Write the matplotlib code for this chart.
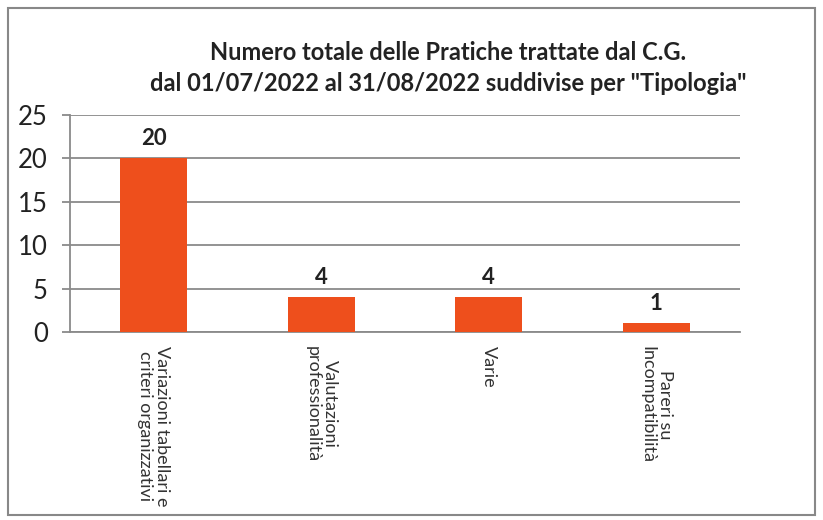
import matplotlib
matplotlib.use("Agg")
import matplotlib.pyplot as plt
from matplotlib.patches import Rectangle

# ========== Data ==========
categories = ["Variazioni tabellari e\ncriteri organizzativi",
              "Valutazioni\nprofessionalità",
              "Varie",
              "Pareri su\nIncompatibilità"]
values = [20, 4, 4, 1]
y_ticks = [0, 5, 10, 15, 20, 25]
title = ("Numero totale delle Pratiche trattate dal C.G.\n"
         "dal 01/07/2022 al 31/08/2022 suddivise per \"Tipologia\"")

plt.rcParams['font.family'] = ['Lato', 'DejaVu Sans']

# ========== Figure ==========
fig = plt.figure(figsize=(8.23, 5.2), dpi=100)
ax = fig.add_axes([0.085, 0.3615, 0.814, 0.4175])

x = range(len(categories))
bars = ax.bar(x, values, width=0.4, color="#EE4F1C", zorder=3)

# value labels on top of bars
for b, v in zip(bars, values):
    ax.annotate(str(v), (b.get_x() + b.get_width() / 2, v),
                xytext=(0, 7), textcoords="offset points",
                ha="center", va="bottom", fontsize=16, fontweight="bold",
                color="#222222")

ax.set_xlim(-0.5, len(categories) - 0.5)
ax.set_ylim(0, 25)
ax.set_yticks(y_ticks)
ax.yaxis.grid(True, color="#8a8a8a", linewidth=1.3, zorder=0)
ax.tick_params(axis="y", length=6, width=1.3, color="#8a8a8a",
               labelsize=18.5, pad=10, labelcolor="#222222")
ax.set_xticks(list(x))
ax.set_xticklabels(categories, rotation=270, fontsize=13, va="top",
                   ha="center", color="#333333", linespacing=1.1)
ax.tick_params(axis="x", length=0, pad=10)

for s in ["top", "right"]:
    ax.spines[s].set_visible(False)
ax.spines["left"].set_color("#8a8a8a")
ax.spines["left"].set_linewidth(1.3)
ax.spines["bottom"].set_color("#8a8a8a")
ax.spines["bottom"].set_linewidth(1.3)

fig.text(0.545, 0.869, title, ha="center", va="center", fontsize=17,
         fontweight="bold", color="#222222", linespacing=1.4)

# outer frame of the chart
fig.patches.append(Rectangle((0.01, 0.01), 0.98, 0.975, transform=fig.transFigure,
                             fill=False, edgecolor="#888888", linewidth=1.5))

fig.savefig("out.png", dpi=100)
